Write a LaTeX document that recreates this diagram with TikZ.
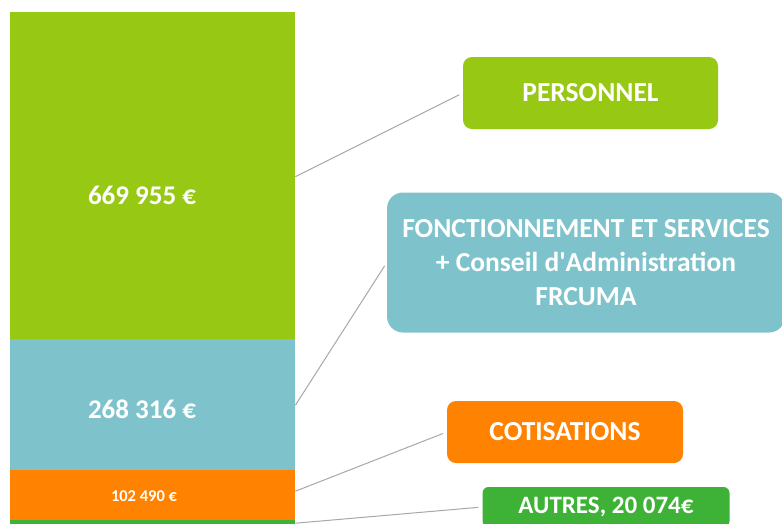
\documentclass[tikz,border=0pt]{standalone}
\usepackage{fontspec}
\setmainfont{Carlito}
\definecolor{cgreen}{HTML}{96C814}
\definecolor{cblue}{HTML}{7EC3CC}
\definecolor{corange}{HTML}{FF8200}
\definecolor{cdgreen}{HTML}{3DB236}
\definecolor{cline}{HTML}{A8A8A8}
\begin{document}
\begin{tikzpicture}[x=1pt,y=-1pt,
  seg/.style={rectangle, inner sep=0pt, minimum width=285pt, anchor=north west, draw=none},
  val/.style={text=white, font=\bfseries\fontsize{27}{30}\selectfont, inner sep=0pt},
  lbox/.style={rectangle, rounded corners=9pt, inner sep=0pt, text=white, align=center, font=\bfseries\fontsize{27.5}{34}\selectfont},
  conn/.style={draw=cline, line width=1pt, shorten >=4pt}
]
\clip (0,0) rectangle (782,523);
\fill[white] (0,0) rectangle (782,523);
% bar segments
\node[seg, fill=cgreen,  minimum height=327pt] (s1) at (10,12) {};
\node[seg, fill=cblue,   minimum height=131pt] (s2) at (10,339) {};
\node[seg, fill=corange, minimum height=50pt]  (s3) at (10,470) {};
\node[seg, fill=cdgreen, minimum height=14pt]  (s4) at (10,520) {};
% values
\node[val] (v1) at (142,195) {669 955 €};
\node[val] (v2) at (142,409) {268 316 €};
\node[val, font=\bfseries\fontsize{16.5}{18}\selectfont] (v3) at (144,496) {102 490 €};
% label boxes
\node[lbox, fill=cgreen, minimum width=255pt, minimum height=72pt] (b1) at (590.5,93) {PERSONNEL};
\node[lbox, fill=cblue, rounded corners=16pt, minimum width=398pt, minimum height=140pt] (b2) at (586,262.5) {FONCTIONNEMENT ET SERVICES\\+ Conseil d\textquotesingle Administration\\FRCUMA};
\node[lbox, fill=corange, minimum width=236pt, minimum height=62pt] (b3) at (565,432) {COTISATIONS};
\node[lbox, fill=cdgreen, rounded corners=6pt, minimum width=247pt, minimum height=40pt, font=\bfseries\fontsize{25}{28}\selectfont] (b4) at (606,507) {AUTRES, 20 074€};
% connectors
\draw[conn] ([yshift=-1pt]s1.east) -- (b1.west);
\draw[conn] ([yshift=-0.5pt]s2.east) -- (b2.west);
\draw[conn] ([yshift=4pt]s3.east) -- (b3.west);
\draw[conn] ([yshift=4pt]s4.east) -- (b4.west);
\end{tikzpicture}
\end{document}
